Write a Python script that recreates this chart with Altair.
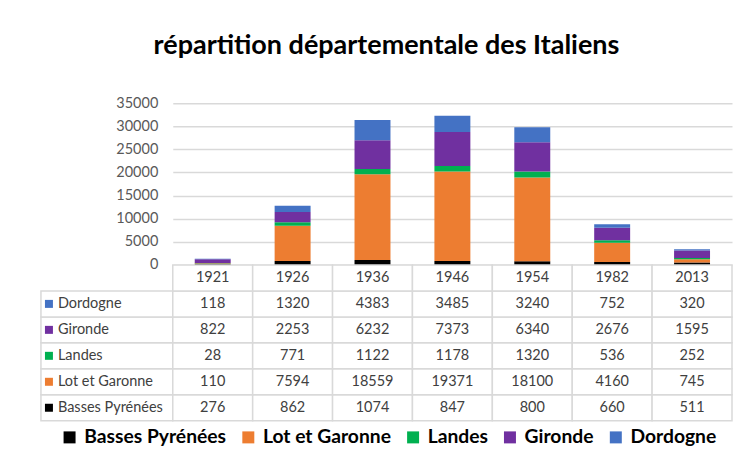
import altair as alt
import pandas as pd

years = ["1921", "1926", "1936", "1946", "1954", "1982", "2013"]
series = ["Basses Pyrénées", "Lot et Garonne", "Landes", "Gironde", "Dordogne"]
colors = ["#000000", "#ED7D31", "#00B050", "#7030A0", "#4472C4"]
basses = [276, 862, 1074, 847, 800, 660, 511]
lot = [110, 7594, 18559, 19371, 18100, 4160, 745]
landes = [28, 771, 1122, 1178, 1320, 536, 252]
gironde = [822, 2253, 6232, 7373, 6340, 2676, 1595]
dordogne = [118, 1320, 4383, 3485, 3240, 752, 320]
values = [basses, lot, landes, gironde, dordogne]
table_rows = ["header", "Dordogne", "Gironde", "Landes", "Lot et Garonne", "Basses Pyrénées"]

FONT = "Lato"
GRID = "#d9d9d9"
TXT = "#404040"

recs = []
for si, (s, vals) in enumerate(zip(series, values)):
    for y, v in zip(years, vals):
        recs.append({"year": y, "serie": s, "value": v, "order": si, "txt": str(v)})
for y in years:
    recs.append({"year": y, "serie": "header", "value": 0, "order": -1, "txt": y})
df = pd.DataFrame(recs)
bars_df = df[df["serie"] != "header"]

lab_df = pd.DataFrame({"serie": series, "hex": colors})

PLOT_W = 560
BAR_H = 162
ROW_H = 26
TABLE_H = ROW_H * len(table_rows)
LAB_W = 132

xband_bar = alt.Scale(domain=years, paddingInner=0.55, paddingOuter=0.275)
xband_tab = alt.Scale(domain=years, paddingInner=0, paddingOuter=0)
yband_tab = alt.Scale(domain=table_rows, paddingInner=0, paddingOuter=0)

bars = alt.Chart(bars_df).mark_bar().encode(
    x=alt.X("year:N", scale=xband_bar, axis=None),
    y=alt.Y("sum(value):Q", stack="zero",
            scale=alt.Scale(domain=[0, 35000], nice=False),
            axis=alt.Axis(title=None, values=list(range(0, 35001, 5000)),
                          domain=False, ticks=False, labelPadding=15,
                          labelFont=FONT, labelFontSize=14.5, labelColor="#595959",
                          gridColor=GRID, gridWidth=1.5, format="d")),
    color=alt.Color("serie:N", scale=alt.Scale(domain=series, range=colors),
                    legend=alt.Legend(title=None, orient="none", direction="horizontal",
                                      legendX=19, legendY=325,
                                      symbolType="square", symbolSize=144,
                                      symbolStrokeWidth=0, symbolOpacity=1,
                                      labelFont=FONT, labelFontSize=19.3,
                                      labelFontWeight="bold", labelColor="#000000",
                                      columnPadding=12, labelOffset=5,
                                      labelLimit=300, padding=0)),
    order=alt.Order("order:Q"),
).properties(width=PLOT_W, height=BAR_H)

empty = alt.Chart(pd.DataFrame({"a": [0]})).mark_text(text="", opacity=0).encode(
    x=alt.value(60), y=alt.value(80)
).properties(width=LAB_W, height=BAR_H)

cells = alt.Chart(df).mark_rect(fill="white", stroke=GRID, strokeWidth=1.5).encode(
    x=alt.X("year:N", scale=xband_tab, axis=None),
    y=alt.Y("serie:N", scale=yband_tab, axis=None),
)
cell_txt = alt.Chart(df).mark_text(font=FONT, fontSize=14.5, color=TXT).encode(
    x=alt.X("year:N", scale=xband_tab, axis=None),
    y=alt.Y("serie:N", scale=yband_tab, axis=None),
    text="txt:N",
)
table = alt.layer(cells, cell_txt).properties(width=PLOT_W, height=TABLE_H)

lab_cells = alt.Chart(lab_df).mark_rect(fill="white", stroke=GRID, strokeWidth=1.5).encode(
    y=alt.Y("serie:N", scale=yband_tab, axis=None),
)
lab_sq = alt.Chart(lab_df).mark_square(size=64, opacity=1).encode(
    x=alt.value(8),
    y=alt.Y("serie:N", scale=yband_tab, axis=None),
    color=alt.Color("hex:N", scale=None),
)
lab_txt = alt.Chart(lab_df).mark_text(font=FONT, fontSize=14.5, color=TXT, align="left").encode(
    x=alt.value(17),
    y=alt.Y("serie:N", scale=yband_tab, axis=None),
    text="serie:N",
)
labels = alt.layer(lab_cells, lab_sq, lab_txt).properties(width=LAB_W, height=TABLE_H)

chart = alt.concat(empty, bars, labels, table, columns=2, spacing=0,
                   bounds="flush", align="each").properties(
    title=alt.TitleParams("répartition départementale des Italiens", font=FONT,
                          fontSize=27, fontWeight="bold", color="#000000",
                          anchor="middle", offset=35),
    padding={"left": 32, "top": 24, "right": 0, "bottom": 0},
).resolve_scale(y="independent", x="independent").configure_view(stroke=None)

chart.save("out.html", embed_options={"renderer": "svg", "actions": False})
